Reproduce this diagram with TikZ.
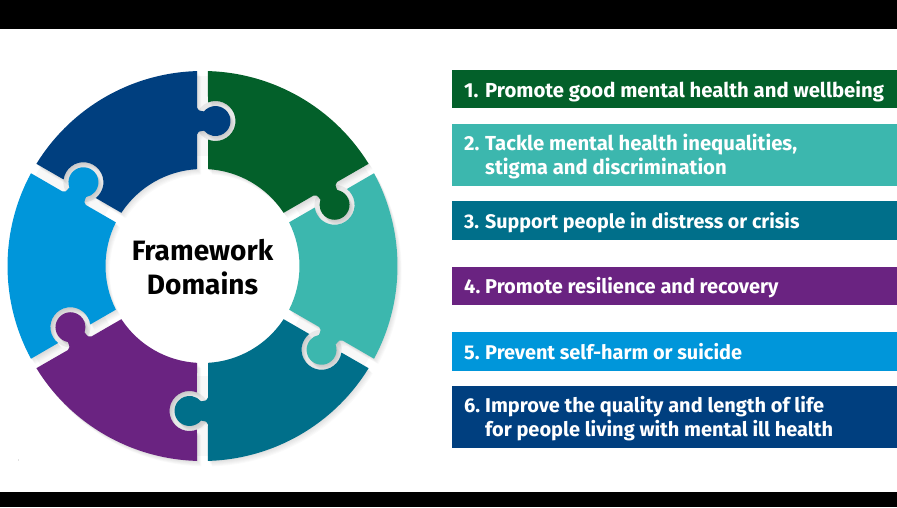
\documentclass[tikz,border=0pt]{standalone}
\usepackage{fontspec}
\setmainfont{Fira Sans}
\definecolor{cgreen}{HTML}{03602A}
\definecolor{cteal}{HTML}{3CB7AE}
\definecolor{cdteal}{HTML}{006F8A}
\definecolor{cpurple}{HTML}{6A2381}
\definecolor{cblue}{HTML}{0096DA}
\definecolor{cnavy}{HTML}{003F7F}
\definecolor{chalo}{HTML}{E8E8E8}
\def\piecepath{
  (148.4:195) arc[start angle=148.4,end angle=91.6,radius=195]
  -- (-5.5,158.5) .. controls (-5.5,155.8) and (-3,155.2) .. (1.5,154.6)
  arc[start angle=140,end angle=-140,radius=15]
  .. controls (-3,134.8) and (-5.5,134.2) .. (-5.5,131.5)
  -- (93.25:97) arc[start angle=93.25,end angle=146.75,radius=97]
  -- ([rotate=60]5.51,126.46) arc[start angle=-52,end angle=172,radius=20]
  -- (148.4:195) -- cycle}
\tikzset{
  bar/.style={anchor=north west,inner sep=0pt,minimum width=445pt,outer sep=0pt},
  bartext/.style={anchor=west,inner sep=0pt,text=white,align=left},
  barfont/.style={font=\fontsize{#1}{24.5}\selectfont\bfseries},
  shade/.style={black,fill opacity=0.018}
}
\newcommand{\num}[1]{\makebox[21pt][l]{#1}}
\begin{document}
\begin{tikzpicture}[x=1pt,y=1pt]
\useasboundingbox (0,0) rectangle (897,507);
\fill[white] (0,0) rectangle (897,507);
\fill[black] (0,478) rectangle (897,507);
\fill[black] (0,0) rectangle (897,15);
% wheel
\begin{scope}[shift={(202.5,241)}]
  \foreach \a in {0,-60,...,-300} {
    \begin{scope}[rotate=\a]
      \fill[chalo] (13,145) circle[radius=20];
      \fill[chalo,opacity=0.3] (-5.5,110) rectangle (5.5,190);
    \end{scope}
  }
  \foreach \s in {1,...,6} {
    \foreach \a in {0,-60,...,-300} {
      \begin{scope}[shift={(0.7*\s,-0.9*\s)},rotate=\a]
        \fill[shade] \piecepath;
      \end{scope}
    }
  }
  \foreach \a/\c in {0/cnavy,-60/cgreen,-120/cteal,-180/cdteal,-240/cpurple,-300/cblue} {
    \begin{scope}[rotate=\a]
      \fill[\c] \piecepath;
    \end{scope}
  }
\end{scope}
\node[inner sep=0pt,align=center,font=\fontsize{28}{34}\selectfont\bfseries] (title) at (202.5,240) {Framework\\Domains};
\fill[gray] (18.5,47) circle[radius=0.4];
% bars
\node[bar,fill=cgreen,minimum height=38pt] (b1) at (452,437) {};
\node[bar,fill=cteal,minimum height=62pt] (b2) at (452,383) {};
\node[bar,fill=cdteal,minimum height=38.5pt] (b3) at (452,306) {};
\node[bar,fill=cpurple,minimum height=38pt] (b4) at (452,240) {};
\node[bar,fill=cblue,minimum height=39pt] (b5) at (452,175) {};
\node[bar,fill=cnavy,minimum height=62pt] (b6) at (452,121) {};
\node[bartext,barfont=20.3] (t1) at (464,415.5) {\num{1.}Promote good mental health and wellbeing};
\node[bartext,barfont=20.3] (t2) at (464,350.5) {\num{2.}Tackle mental health inequalities,\\\hspace*{21pt}stigma and discrimination};
\node[bartext,barfont=19.7] (t3) at (464,284.5) {\num{3.}Support people in distress or crisis};
\node[bartext,barfont=20] (t4) at (464,219) {\num{4.}Promote resilience and recovery};
\node[bartext,barfont=19.9] (t5) at (464,155) {\num{5.}Prevent self-harm or suicide};
\node[bartext,barfont=20] (t6) at (464,88.5) {\num{6.}Improve the quality and length of life\\\hspace*{21pt}for people living with mental ill health};
\end{tikzpicture}
\end{document}
